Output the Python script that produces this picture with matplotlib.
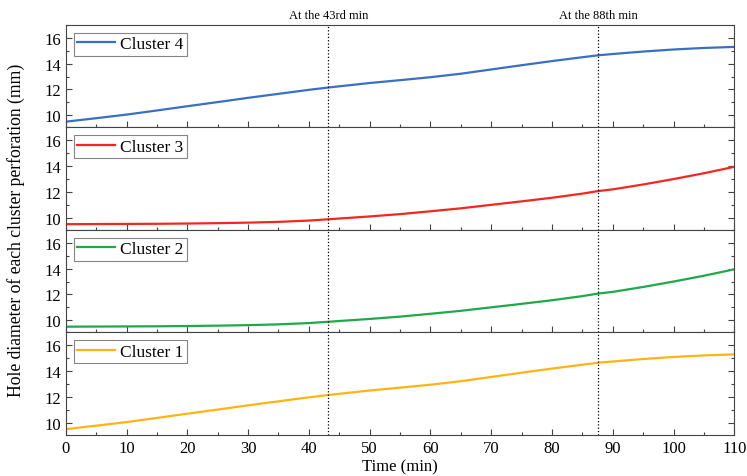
import numpy as np
import matplotlib.pyplot as plt
from matplotlib.ticker import MultipleLocator

plt.rcParams["font.family"] = ["Liberation Serif", "DejaVu Serif"]

time = [0, 5, 10, 15, 20, 25, 30, 35, 40, 43.2, 50, 55, 60, 65, 70, 75, 80, 85, 87.6, 90, 95, 100, 105, 110]
cluster_outer = [9.5, 9.77, 10.05, 10.37, 10.7, 11.02, 11.35, 11.66, 11.97, 12.15, 12.5, 12.72, 12.95, 13.22,
                 13.55, 13.88, 14.2, 14.5, 14.65, 14.75, 14.94, 15.1, 15.22, 15.3]
cluster_inner = [9.5, 9.51, 9.52, 9.53, 9.55, 9.58, 9.62, 9.68, 9.78, 9.88, 10.1, 10.28, 10.5, 10.73,
                 11.0, 11.27, 11.55, 11.87, 12.07, 12.2, 12.58, 13.0, 13.45, 13.95]
series = {
    "Cluster 4": cluster_outer,
    "Cluster 3": cluster_inner,
    "Cluster 2": cluster_inner,
    "Cluster 1": cluster_outer,
}
colors = ["#3a70c2", "#f2281e", "#20a84a", "#ffb414"]
markers = [43.2, 87.6]
marker_labels = ["At the 43rd min", "At the 88th min"]

fig, axes = plt.subplots(4, 1, sharex=True, figsize=(7.47, 4.77), dpi=100)
fig.subplots_adjust(left=0.088, right=0.983, top=0.9455, bottom=0.086, hspace=0)

for ax, (name, vals), c in zip(axes, series.items(), colors):
    ax.plot(time, vals, color=c, lw=1.6, label=name)
    for m in markers:
        ax.axvline(m, color="black", ls=":", lw=0.9)
    ax.set_xlim(0, 110)
    ax.set_ylim(9.05, 17)
    ax.yaxis.set_major_locator(MultipleLocator(2))
    ax.yaxis.set_minor_locator(MultipleLocator(1))
    ax.xaxis.set_major_locator(MultipleLocator(10))
    ax.xaxis.set_minor_locator(MultipleLocator(5))
    ax.tick_params(axis="y", which="both", direction="in", right=True, labelsize=12)
    ax.tick_params(axis="x", which="both", direction="in", labelsize=12)
    ax.tick_params(which="major", length=4.5, width=0.8, color="#444444")
    ax.tick_params(which="minor", length=2.5, width=0.8, color="#444444")
    for s in ax.spines.values():
        s.set_color("#444444")
    leg = ax.legend(loc="upper left", fontsize=12.5, handlelength=2.2, fancybox=False,
                    borderaxespad=0.45, borderpad=0.2, handletextpad=0.3)
    leg.get_frame().set_edgecolor("#666666")
    leg.get_frame().set_linewidth(0.8)

for m, lab in zip(markers, marker_labels):
    axes[0].text(m, 17.3, lab, ha="center", va="bottom", fontsize=9)

axes[-1].set_xlabel("Time (min)", fontsize=12, labelpad=2)
fig.text(0.022, 0.516, "Hole diameter of each cluster perforation (mm)", rotation=90,
         ha="center", va="center", fontsize=12.7)

plt.savefig("out.png")
